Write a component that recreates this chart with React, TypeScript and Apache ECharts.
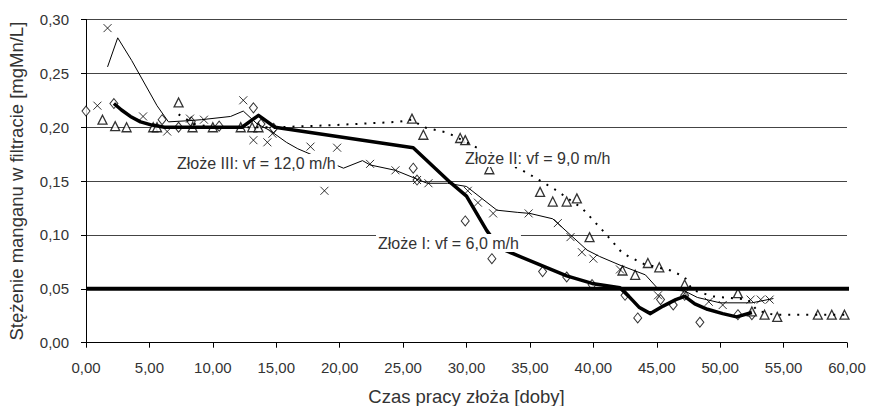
import React, { useEffect, useRef } from "react";
import * as echarts from "echarts";

// Złoże I (diamonds) – measured points
const bedIPoints: number[][] = [
  [0, 0.215], [2.2, 0.222], [6.0, 0.207], [7.3, 0.2], [8.3, 0.205], [10.5, 0.201],
  [13.2, 0.218], [13.8, 0.203], [14.8, 0.199], [25.8, 0.162], [26.1, 0.151],
  [29.9, 0.113], [32.0, 0.078], [36.0, 0.066], [37.9, 0.061], [39.9, 0.054],
  [42.5, 0.044], [43.5, 0.023], [45.3, 0.04], [46.3, 0.035], [47.2, 0.044],
  [48.4, 0.019], [51.4, 0.026], [52.5, 0.026],
];
// Złoże I – trend (thick line)
const bedITrend: number[][] = [
  [2.2, 0.222], [2.8, 0.216], [3.5, 0.21], [4.3, 0.205], [5.2, 0.202], [6.2, 0.2],
  [12.3, 0.2], [13.6, 0.211], [14.9, 0.2], [25.8, 0.181], [28.7, 0.149],
  [30.0, 0.136], [31.6, 0.104], [32.6, 0.088], [34.0, 0.081], [37.9, 0.062],
  [39.9, 0.055], [42.1, 0.051], [42.8, 0.043], [43.6, 0.033], [44.5, 0.027],
  [45.5, 0.034], [46.5, 0.04], [47.2, 0.043], [48.0, 0.036], [49.0, 0.031],
  [50.2, 0.027], [51.3, 0.024], [52.5, 0.028],
];

// Złoże II (triangles) – measured points
const bedIIPoints: number[][] = [
  [1.3, 0.207], [2.3, 0.201], [3.2, 0.2], [5.3, 0.2], [5.6, 0.2], [7.3, 0.223],
  [8.4, 0.2], [10.0, 0.2], [12.2, 0.2], [13.1, 0.2], [13.6, 0.2], [25.7, 0.208],
  [26.6, 0.193], [29.5, 0.19], [29.9, 0.188], [31.8, 0.161], [35.8, 0.14],
  [36.8, 0.131], [37.9, 0.131], [38.7, 0.134], [39.7, 0.098], [42.3, 0.067],
  [43.3, 0.063], [44.3, 0.074], [45.2, 0.07], [47.2, 0.054], [51.4, 0.046],
  [52.5, 0.029], [53.5, 0.026], [54.5, 0.024], [57.7, 0.026], [58.8, 0.026],
  [59.8, 0.026],
];
// Złoże II – trend (dotted line)
const bedIITrend: number[][] = [
  [7.3, 0.212], [8.5, 0.203], [10.0, 0.2], [15.0, 0.2], [19.6, 0.202], [24.6, 0.205],
  [25.7, 0.207], [26.6, 0.2], [28.5, 0.195], [30.5, 0.183], [32.5, 0.17],
  [34.4, 0.16], [35.3, 0.154], [37.0, 0.142], [39.1, 0.125], [40.9, 0.102],
  [42.3, 0.083], [44.0, 0.073], [46.1, 0.067], [47.2, 0.061], [47.8, 0.049],
  [49.4, 0.043], [52.2, 0.04], [52.9, 0.03], [54.2, 0.026], [59.8, 0.026],
];

// Złoże III (crosses) – measured points
const bedIIIPoints: number[][] = [
  [0.9, 0.22], [1.7, 0.292], [4.5, 0.21], [6.4, 0.196], [8.2, 0.208], [9.3, 0.207],
  [12.4, 0.225], [13.2, 0.188], [14.3, 0.186], [14.7, 0.194], [17.7, 0.182],
  [18.8, 0.141], [19.8, 0.181], [22.4, 0.166], [24.4, 0.16], [26.1, 0.151],
  [27.0, 0.148], [30.1, 0.141], [30.9, 0.13], [32.1, 0.12], [34.9, 0.12],
  [37.2, 0.111], [38.2, 0.098], [39.1, 0.084], [40.0, 0.078], [42.1, 0.068],
  [45.1, 0.044], [47.2, 0.046], [49.1, 0.038], [50.2, 0.035], [52.4, 0.04],
  [53.2, 0.04], [53.9, 0.04],
];
// Złoże III – trend (thin line)
const bedIIITrend: number[][] = [
  [1.7, 0.256], [2.5, 0.283], [3.6, 0.262], [5.6, 0.22], [6.5, 0.205], [8.0, 0.206],
  [9.1, 0.207], [11.4, 0.21], [12.4, 0.215], [13.5, 0.203], [14.5, 0.197],
  [15.8, 0.186], [16.7, 0.18], [20.3, 0.162], [21.8, 0.169], [22.4, 0.165],
  [24.4, 0.16], [26.9, 0.148], [28.5, 0.148], [30.0, 0.145], [32.4, 0.123],
  [34.0, 0.121], [35.0, 0.12], [36.8, 0.115], [38.2, 0.1], [39.5, 0.086],
  [40.5, 0.08], [42.1, 0.072], [44.1, 0.063], [45.1, 0.05], [47.2, 0.048],
  [48.2, 0.042], [50.0, 0.037], [52.5, 0.037], [54.2, 0.041],
];

// Limit line 0,05 mgMn/L
const limitLine: number[][] = [[0, 0.05], [60.6, 0.05]];

const annotations = [
  "Złoże III: vf = 12,0 m/h",
  "Złoże II: vf = 9,0 m/h",
  "Złoże I: vf = 6,0 m/h",
];

const xAxisTitle = "Czas pracy złoża [doby]";
const yAxisTitle = "Stężenie manganu w filtracie [mgMn/L]";

const FONT = '"Liberation Sans", Arial, sans-serif';
const TXT = "#333";
const crossSymbol = "path://M0,0L10,10M10,0L0,10";

export default function App() {
  const ref = useRef<HTMLDivElement>(null);
  useEffect(() => {
    if (!ref.current) return;
    const chart = echarts.init(ref.current, undefined, { renderer: "svg" });
    const fmt = (v: number) => v.toFixed(2).replace(".", ",");
    chart.setOption({
      animation: false,
      backgroundColor: "#fff",
      grid: {
        left: 86,
        right: 23,
        top: 19.5,
        bottom: 63.3,
        containLabel: false,
        outerBoundsMode: "none",
      },
      xAxis: {
        type: "value",
        min: 0,
        max: 60,
        interval: 5,
        name: xAxisTitle,
        nameLocation: "middle",
        nameGap: 44,
        nameTextStyle: { fontFamily: FONT, fontSize: 18.5, color: TXT },
        axisLine: { show: true, onZero: false, lineStyle: { color: "#000", width: 1 } },
        axisTick: { show: true, length: 5, lineStyle: { color: "#000" } },
        axisLabel: { formatter: fmt, fontFamily: FONT, fontSize: 15, color: TXT, margin: 17 },
        splitLine: { show: false },
      },
      yAxis: {
        type: "value",
        min: 0,
        max: 0.3,
        interval: 0.05,
        name: yAxisTitle,
        nameLocation: "middle",
        nameGap: 60,
        nameTextStyle: { fontFamily: FONT, fontSize: 18.5, color: TXT },
        axisLine: { show: true, lineStyle: { color: "#000", width: 1 } },
        axisTick: { show: true, length: 5, lineStyle: { color: "#000" } },
        axisLabel: { formatter: fmt, fontFamily: FONT, fontSize: 15, color: TXT, margin: 17 },
        splitLine: { show: true, lineStyle: { color: "#444", width: 1 } },
      },
      series: [
        {
          name: "Złoże I",
          type: "scatter",
          data: bedIPoints,
          symbol: "diamond",
          symbolSize: [8, 10],
          itemStyle: { color: "#fff", borderColor: "#000", borderWidth: 1 },
        },
        {
          name: "Złoże II",
          type: "scatter",
          data: bedIIPoints,
          symbol: "triangle",
          symbolSize: [9, 9],
          itemStyle: { color: "#fff", borderColor: "#000", borderWidth: 1.3 },
        },
        {
          name: "Złoże III",
          type: "scatter",
          data: bedIIIPoints,
          symbol: crossSymbol,
          symbolSize: [8, 8],
          itemStyle: { color: "none", borderColor: "#000", borderWidth: 1 },
        },
        {
          name: "limit",
          type: "line",
          data: limitLine,
          showSymbol: false,
          clip: false,
          lineStyle: { color: "#000", width: 4 },
        },
        {
          name: "Złoże III trend",
          type: "line",
          data: bedIIITrend,
          showSymbol: false,
          lineStyle: { color: "#000", width: 1 },
        },
        {
          name: "Złoże II trend",
          type: "line",
          data: bedIITrend,
          showSymbol: false,
          lineStyle: { color: "#000", width: 2, type: [2, 7] },
        },
        {
          name: "Złoże I trend",
          type: "line",
          data: bedITrend,
          showSymbol: false,
          lineStyle: { color: "#000", width: 3.5, join: "round" },
        },
      ],
      graphic: [
        { left: 175, top: 154, text: annotations[0] },
        { left: 463, top: 149, text: annotations[1] },
        { left: 376, top: 234, text: annotations[2] },
      ].map((a) => ({
        type: "text",
        left: a.left,
        top: a.top,
        z: 100,
        style: {
          text: a.text,
          font: `16px ${FONT}`,
          fill: TXT,
          backgroundColor: "#fff",
          padding: [1, 2, 1, 2],
        },
      })),
    });
    return () => chart.dispose();
  }, []);
  return (
    <div
      ref={ref}
      style={{ position: "absolute", left: 0, top: 0, width: 870, height: 406 }}
    />
  );
}
